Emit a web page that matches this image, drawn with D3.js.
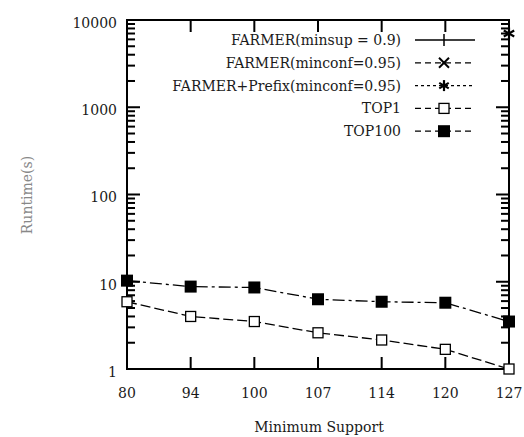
<!DOCTYPE html>
<html>
<head>
<script src="https://d3js.org/d3.v7.min.js"></script>
<style>
body { margin: 0; background: #fff; }
text { font-family: "DejaVu Serif", "Liberation Serif", serif; fill: #1a1a1a; }
.line { fill: none; stroke: #000; stroke-width: 1.3; }
</style>
</head>
<body>
<div id="chart"></div>
<script>
// values
const supports = ["80", "94", "100", "107", "114", "120", "127"];
const top1 = [5.9, 4.0, 3.5, 2.6, 2.15, 1.68, 1.0];
const top100 = [10.3, 8.8, 8.6, 6.3, 5.9, 5.75, 3.5];
const prefixSupports = ["127"];
const prefixVals = [7000];
const yTicks = [1, 10, 100, 1000, 10000];
const legendNames = ["FARMER(minsup = 0.9)", "FARMER(minconf=0.95)", "FARMER+Prefix(minconf=0.95)", "TOP1", "TOP100"];

const W = 524, H = 437;
const margin = {top: 20, right: 15, bottom: 68, left: 127};
const width = W - margin.left - margin.right;
const height = H - margin.top - margin.bottom;

const svg = d3.select("#chart").append("svg")
    .attr("width", W).attr("height", H);
const g = svg.append("g")
    .attr("transform", "translate(" + margin.left + "," + margin.top + ")");

const x = d3.scalePoint().domain(supports).range([0, width]);
const y = d3.scaleLog().domain([1, 10000]).range([height, 0]);

// minor ticks
const minor = [];
for (let d = 1; d < 10000; d *= 10)
  for (let k = 2; k <= 9; k++) minor.push(d * k);

// frame
g.append("rect").attr("width", width).attr("height", height)
  .attr("fill", "none").attr("stroke", "#000").attr("stroke-width", 2);

// ticks drawn as thin filled bars, pointing inward
const tg = g.append("g").attr("fill", "#000");
yTicks.forEach(v => {
  tg.append("rect").attr("x", 0).attr("y", y(v) - 1).attr("width", 13).attr("height", 2);
  tg.append("rect").attr("x", width - 13).attr("y", y(v) - 1).attr("width", 13).attr("height", 2);
});
minor.forEach(v => {
  tg.append("rect").attr("x", 0).attr("y", y(v) - 1).attr("width", 8).attr("height", 2);
  tg.append("rect").attr("x", width - 8).attr("y", y(v) - 1).attr("width", 8).attr("height", 2);
});
supports.forEach(s => {
  tg.append("rect").attr("x", x(s) - 1).attr("y", height - 12).attr("width", 2).attr("height", 12);
  tg.append("rect").attr("x", x(s) - 1).attr("y", 0).attr("width", 2).attr("height", 12);
});

// tick labels
g.selectAll(".ylab").data(yTicks).enter().append("text")
  .attr("x", -10).attr("y", d => y(d) + 3).attr("dy", "0.35em")
  .attr("text-anchor", "end").attr("font-size", 14).text(d => d);
g.selectAll(".xlab").data(supports).enter().append("text")
  .attr("x", d => x(d)).attr("y", height + 29)
  .attr("text-anchor", "middle").attr("font-size", 14).text(d => d);

// axis titles
svg.append("text").attr("x", margin.left + width / 2 + 1).attr("y", 432)
  .attr("text-anchor", "middle").attr("font-size", 14).text("Minimum Support");
svg.append("text").attr("transform", "translate(32,195) rotate(-90)")
  .attr("text-anchor", "middle").attr("font-size", 14).style("fill", "#888").text("Runtime(s)");

// series
const lineGen = d3.line().x(d => x(d[0])).y(d => y(d[1]));
const s1 = supports.map((s, i) => [s, top1[i]]);
const s100 = supports.map((s, i) => [s, top100[i]]);

g.append("path").datum(s1).attr("class", "line")
  .attr("stroke-dasharray", "10,4").attr("d", lineGen);
g.append("path").datum(s100).attr("class", "line")
  .attr("stroke-dasharray", "12,4,3,4").attr("d", lineGen);

g.selectAll(".p1").data(s1).enter().append("rect")
  .attr("x", d => x(d[0]) - 5).attr("y", d => y(d[1]) - 5)
  .attr("width", 10).attr("height", 10)
  .attr("fill", "#fff").attr("stroke", "#000").attr("stroke-width", 1.3);
g.selectAll(".p100").data(s100).enter().append("rect")
  .attr("x", d => x(d[0]) - 6).attr("y", d => y(d[1]) - 6)
  .attr("width", 12).attr("height", 12).attr("fill", "#000");

// star marker
function star(sel, cx, cy, r) {
  for (let a = 0; a < 3; a++) {
    const ang = a * Math.PI / 3 + Math.PI / 2;
    sel.append("line")
      .attr("x1", cx - r * Math.cos(ang)).attr("y1", cy - r * Math.sin(ang))
      .attr("x2", cx + r * Math.cos(ang)).attr("y2", cy + r * Math.sin(ang))
      .attr("stroke", "#000").attr("stroke-width", 2.2);
  }
}
prefixSupports.forEach((s, i) => star(g, x(s), y(prefixVals[i]), 6));

// legend
const lg = svg.append("g");
const lx = 401, ly0 = 40, ldy = 22.8;
const dashes = [null, "6,4", "3,3", "6,4", "6,4"];
legendNames.forEach((name, i) => {
  const yy = ly0 + i * ldy;
  lg.append("text").attr("x", lx).attr("y", yy).attr("dy", "0.35em")
    .attr("text-anchor", "end").attr("font-size", 14).text(name);
  lg.append("line").attr("x1", lx + 14).attr("x2", lx + 74)
    .attr("y1", yy).attr("y2", yy).attr("stroke", "#000").attr("stroke-width", 1.3)
    .attr("stroke-dasharray", dashes[i]);
  const mx = lx + 43;
  if (i === 0) {
    lg.append("line").attr("x1", mx).attr("x2", mx).attr("y1", yy - 6).attr("y2", yy + 6)
      .attr("stroke", "#000").attr("stroke-width", 1.5);
  } else if (i === 1) {
    lg.append("line").attr("x1", mx - 5).attr("x2", mx + 5).attr("y1", yy - 5).attr("y2", yy + 5)
      .attr("stroke", "#000").attr("stroke-width", 2);
    lg.append("line").attr("x1", mx - 5).attr("x2", mx + 5).attr("y1", yy + 5).attr("y2", yy - 5)
      .attr("stroke", "#000").attr("stroke-width", 2);
  } else if (i === 2) {
    star(lg, mx, yy, 5.5);
  } else if (i === 3) {
    lg.append("rect").attr("x", mx - 5).attr("y", yy - 5).attr("width", 10).attr("height", 10)
      .attr("fill", "#fff").attr("stroke", "#000").attr("stroke-width", 1.3);
  } else {
    lg.append("rect").attr("x", mx - 6).attr("y", yy - 6).attr("width", 12).attr("height", 12)
      .attr("fill", "#000");
  }
});
</script>
</body>
</html>
